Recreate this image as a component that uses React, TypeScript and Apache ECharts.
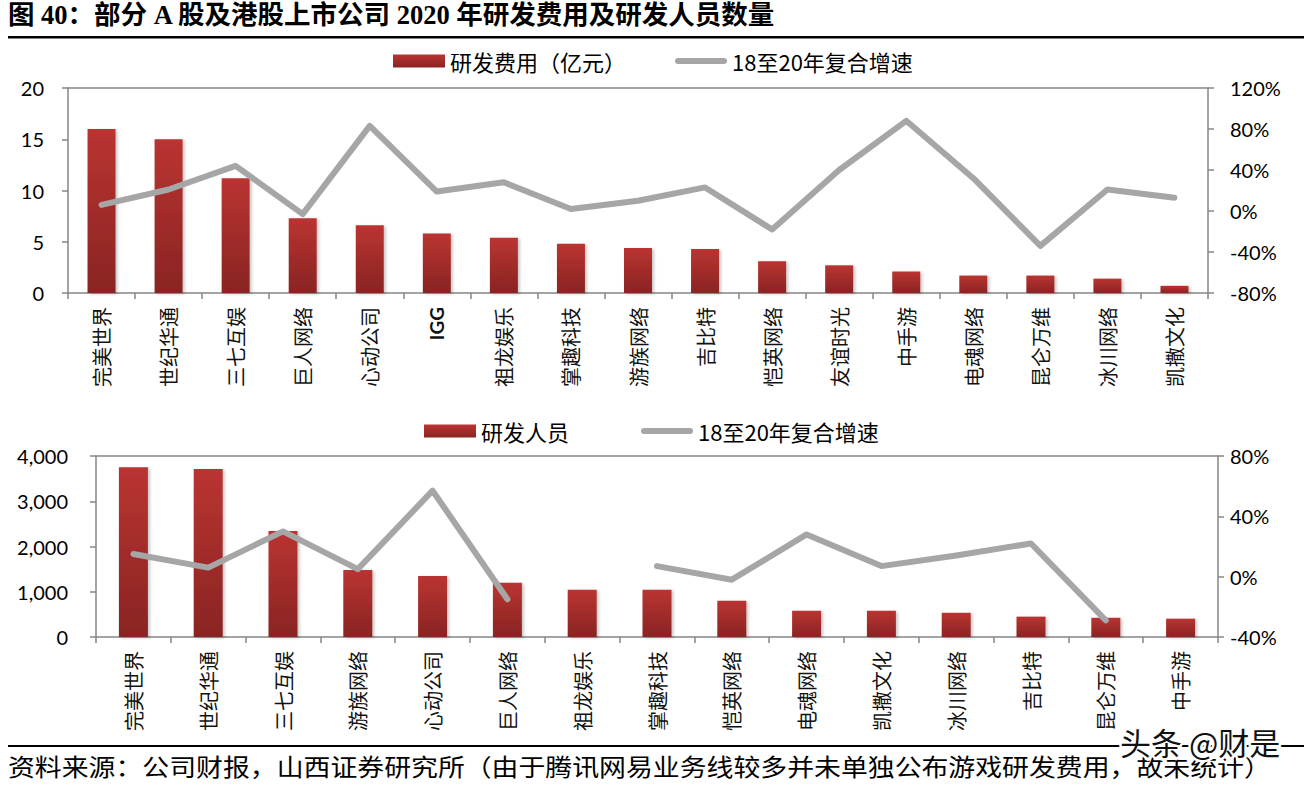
import React, { useEffect, useRef } from "react";
import * as echarts from "echarts";

const categoriesTop = ["完美世界", "世纪华通", "三七互娱", "巨人网络", "心动公司", "IGG", "祖龙娱乐", "掌趣科技", "游族网络", "吉比特", "恺英网络", "友谊时光", "中手游", "电魂网络", "昆仑万维", "冰川网络", "凯撒文化"];
const rdExpense = [16.0, 15.0, 11.2, 7.3, 6.6, 5.8, 5.4, 4.8, 4.4, 4.3, 3.1, 2.7, 2.1, 1.7, 1.7, 1.4, 0.7];
const expenseCagr = [6, 21, 44, -3, 83, 19, 28, 2, 10, 23, -18, 40, 88, 32, -34, 21, 13];

const categoriesBottom = ["完美世界", "世纪华通", "三七互娱", "游族网络", "心动公司", "巨人网络", "祖龙娱乐", "掌趣科技", "恺英网络", "电魂网络", "凯撒文化", "冰川网络", "吉比特", "昆仑万维", "中手游"];
const rdStaff = [3750, 3710, 2345, 1480, 1350, 1200, 1045, 1045, 800, 580, 580, 535, 450, 425, 405];
const staffCagr: (number | null)[] = [15, 6, 30, 5, 57, -15, null, 7, -2, 28, 7, 14, 22, -29, null];

const titleText = "图 40：部分 A 股及港股上市公司 2020 年研发费用及研发人员数量";
const sourceText = "资料来源：公司财报，山西证券研究所（由于腾讯网易业务线较多并未单独公布游戏研发费用，故未统计）";
const watermarkText = "头条 @财是";

const AXIS = "#868686";
const LINE = "#A6A6A6";
const NUM_FONT = "Lato, 'Noto Sans', sans-serif";
const CJK_FONT = "'Noto Sans CJK SC', sans-serif";

const barColor = () =>
  new echarts.graphic.LinearGradient(0, 0, 0, 1, [
    { offset: 0, color: "#BA3431" },
    { offset: 1, color: "#892423" },
  ]);

const catLabel = {
  rotate: 90,
  margin: 14,
  fontSize: 20,
  color: "#111",
  fontFamily: CJK_FONT,
  formatter: (v: string) => (v === "IGG" ? "{b|IGG}" : v),
  rich: { b: { fontWeight: "bold", fontSize: 19, fontFamily: NUM_FONT, color: "#111" } },
};

export default function App() {
  const ref = useRef<HTMLDivElement>(null);
  useEffect(() => {
    if (!ref.current) return;
    const chart = echarts.init(ref.current, null, { renderer: "svg" });
    const barIcon = "path://M0,0h52v13h-52z";
    const lineIcon = "path://M3,0h46a3,3 0 0 1 0,6h-46a3,3 0 0 1 0,-6z";
    const axisLine = { onZero: false, lineStyle: { color: AXIS, width: 1.5 } };
    const option: any = {
      animation: false,
      backgroundColor: "#fff",
      graphic: [
        { type: "text", left: 8, top: 2, style: { text: titleText, fontSize: 26.5, fontWeight: "bold", fontFamily: "'Liberation Serif', 'Noto Sans CJK SC', serif", fill: "#000" } },
        { type: "rect", shape: { x: 8, y: 36, width: 1296, height: 2.5 }, style: { fill: "#000" } },
        { type: "rect", shape: { x: 8, y: 745, width: 1296, height: 2 }, style: { fill: "#000" } },
        { type: "text", x: 8, y: 753, scaleX: 1.12, style: { text: sourceText, fontSize: 24, fontFamily: CJK_FONT, fill: "#000" } },
        { type: "text", x: 1120, y: 726, style: { text: watermarkText, fontSize: 31, fontFamily: CJK_FONT, fill: "#111", stroke: "#fff", lineWidth: 5 } },
      ],
      legend: [
        {
          left: 388, top: 45, itemWidth: 52, itemHeight: 13, itemGap: 49,
          textStyle: { fontSize: 22, fontFamily: CJK_FONT, color: "#000" },
          data: [
            { name: "研发费用（亿元）", icon: barIcon },
            { name: "18至20年复合增速", icon: lineIcon },
          ],
        },
        {
          left: 419, top: 415, itemWidth: 52, itemHeight: 13, itemGap: 72,
          textStyle: { fontSize: 22, fontFamily: CJK_FONT, color: "#000" },
          data: [
            { name: "研发人员", icon: barIcon },
            { name: "18至20年复合增速", icon: lineIcon },
          ],
        },
      ],
      grid: [
        { left: 68, top: 88, width: 1140, height: 205 },
        { left: 96, top: 456, width: 1122, height: 181 },
      ],
      xAxis: [
        {
          type: "category", gridIndex: 0, data: categoriesTop,
          axisLine,
          axisTick: { show: true, length: 6, lineStyle: { color: AXIS, width: 1.5 } },
          axisLabel: catLabel,
        },
        {
          type: "category", gridIndex: 0, position: "top", data: categoriesTop,
          axisLine,
          axisTick: { show: false }, axisLabel: { show: false },
        },
        {
          type: "category", gridIndex: 1, data: categoriesBottom,
          axisLine,
          axisTick: { show: true, length: 6, lineStyle: { color: AXIS, width: 1.5 } },
          axisLabel: catLabel,
        },
        {
          type: "category", gridIndex: 1, position: "top", data: categoriesBottom,
          axisLine,
          axisTick: { show: false }, axisLabel: { show: false },
        },
      ],
      yAxis: [
        {
          type: "value", gridIndex: 0, min: 0, max: 20, interval: 5,
          axisLine: { show: true, ...axisLine },
          axisTick: { show: true, length: 6, lineStyle: { color: AXIS, width: 1.5 } },
          splitLine: { show: false },
          axisLabel: { margin: 24, fontSize: 20, color: "#000", fontFamily: NUM_FONT },
        },
        {
          type: "value", gridIndex: 0, position: "right", min: -80, max: 120, interval: 40,
          axisLine: { show: true, ...axisLine },
          axisTick: { show: true, length: 6, lineStyle: { color: AXIS, width: 1.5 } },
          splitLine: { show: false },
          axisLabel: { margin: 22, fontSize: 20, color: "#000", fontFamily: NUM_FONT, formatter: "{value}%" },
        },
        {
          type: "value", gridIndex: 1, min: 0, max: 4000, interval: 1000,
          axisLine: { show: true, ...axisLine },
          axisTick: { show: true, length: 6, lineStyle: { color: AXIS, width: 1.5 } },
          splitLine: { show: false },
          axisLabel: { margin: 28, fontSize: 20, color: "#000", fontFamily: NUM_FONT, formatter: (v: number) => v.toLocaleString("en-US") },
        },
        {
          type: "value", gridIndex: 1, position: "right", min: -40, max: 80, interval: 40,
          axisLine: { show: true, ...axisLine },
          axisTick: { show: true, length: 6, lineStyle: { color: AXIS, width: 1.5 } },
          splitLine: { show: false },
          axisLabel: { margin: 12, fontSize: 20, color: "#000", fontFamily: NUM_FONT, formatter: "{value}%" },
        },
      ],
      series: [
        {
          name: "研发费用（亿元）", type: "bar", xAxisIndex: 0, yAxisIndex: 0, data: rdExpense, barWidth: 28,
          itemStyle: { color: barColor(), shadowColor: "rgba(0,0,0,0.22)", shadowBlur: 3, shadowOffsetX: 2, shadowOffsetY: 1 },
        },
        {
          name: "18至20年复合增速", type: "line", xAxisIndex: 0, yAxisIndex: 1, data: expenseCagr, symbol: "none",
          lineStyle: { color: LINE, width: 6, cap: "round", join: "round" }, itemStyle: { color: LINE },
        },
        {
          name: "研发人员", type: "bar", xAxisIndex: 2, yAxisIndex: 2, data: rdStaff, barWidth: 29,
          itemStyle: { color: barColor(), shadowColor: "rgba(0,0,0,0.22)", shadowBlur: 3, shadowOffsetX: 2, shadowOffsetY: 1 },
        },
        {
          name: "18至20年复合增速", type: "line", xAxisIndex: 2, yAxisIndex: 3, data: staffCagr, symbol: "none", connectNulls: false,
          lineStyle: { color: LINE, width: 6, cap: "round", join: "round" }, itemStyle: { color: LINE },
        },
      ],
    };
    chart.setOption(option);
    return () => chart.dispose();
  }, []);
  return <div ref={ref} style={{ position: "absolute", left: 0, top: 0, width: 1312, height: 785 }} />;
}
